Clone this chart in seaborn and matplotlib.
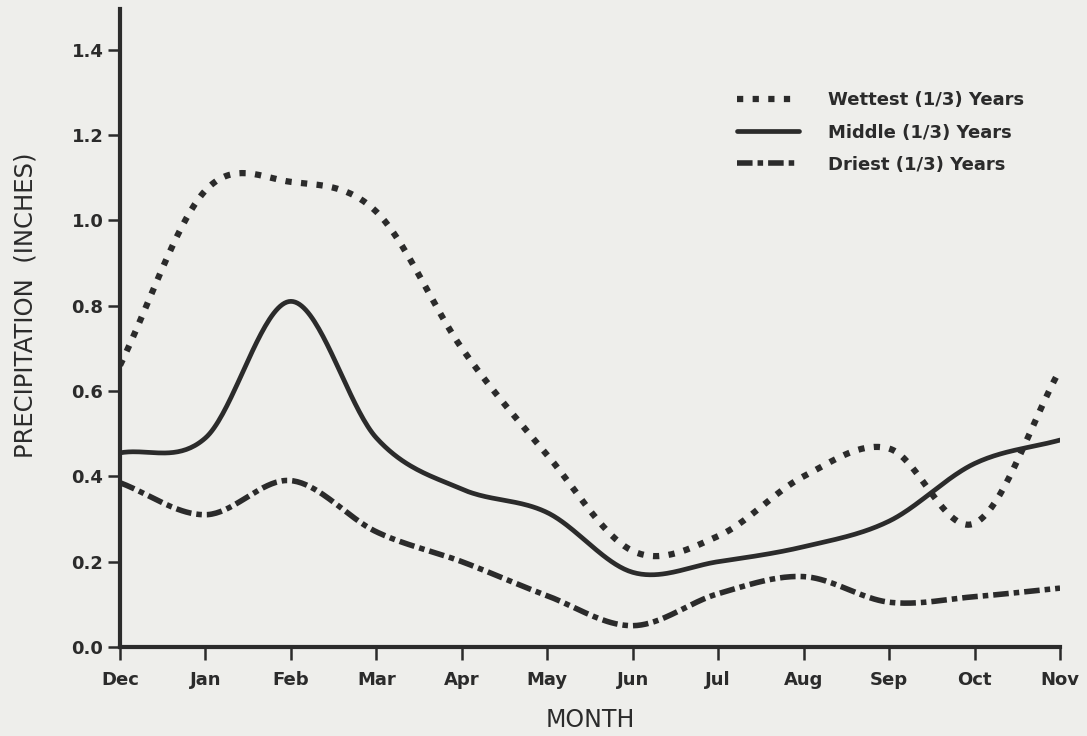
import numpy as np
import pandas as pd
import matplotlib
matplotlib.use("Agg")
import matplotlib.pyplot as plt
import seaborn as sns

# Monthly mean precipitation (inches) for the three terciles of years
months = ["Dec", "Jan", "Feb", "Mar", "Apr", "May", "Jun",
          "Jul", "Aug", "Sep", "Oct", "Nov"]
wettest = [0.66, 1.07, 1.09, 1.02, 0.70, 0.45, 0.225, 0.26, 0.40, 0.465, 0.29, 0.65]
middle = [0.455, 0.49, 0.81, 0.49, 0.37, 0.315, 0.175, 0.20, 0.235, 0.295, 0.43, 0.485]
driest = [0.385, 0.31, 0.39, 0.27, 0.20, 0.12, 0.05, 0.125, 0.165, 0.105, 0.118, 0.138]

series_names = ["Wettest (1/3) Years", "Middle (1/3) Years", "Driest (1/3) Years"]

INK = "#2b2b2b"
PAPER = "#eeeeeb"


def smooth_curve(y, per_seg=40):
    """Catmull-Rom spline through the monthly values for a hand-drawn look."""
    y = np.asarray(y, dtype=float)
    n = len(y)
    tang = np.empty(n)
    tang[1:-1] = (y[2:] - y[:-2]) / 2.0
    tang[0] = y[1] - y[0]
    tang[-1] = y[-1] - y[-2]
    xs, ys = [], []
    t = np.linspace(0, 1, per_seg, endpoint=False)
    h00 = 2 * t**3 - 3 * t**2 + 1
    h10 = t**3 - 2 * t**2 + t
    h01 = -2 * t**3 + 3 * t**2
    h11 = t**3 - t**2
    for i in range(n - 1):
        xs.append(i + t)
        ys.append(h00 * y[i] + h10 * tang[i] + h01 * y[i + 1] + h11 * tang[i + 1])
    xs.append(np.array([n - 1.0]))
    ys.append(np.array([y[-1]]))
    return np.concatenate(xs), np.concatenate(ys)


frames = []
for name, vals in zip(series_names, [wettest, middle, driest]):
    xs, ys = smooth_curve(vals)
    frames.append(pd.DataFrame({"month": xs, "precip": ys, "group": name}))
df = pd.concat(frames, ignore_index=True)

sns.set_theme(style="ticks")
plt.rcParams["font.family"] = ["DejaVu Sans"]

fig = plt.figure(figsize=(10.87, 7.36), dpi=100, facecolor=PAPER)
ax = fig.add_axes([0.1104, 0.1209, 0.8648, 0.8668])
ax.set_facecolor(PAPER)

styles = {
    "Wettest (1/3) Years": dict(dashes=(1.0, 1.5), lw=4.5),
    "Middle (1/3) Years": dict(dashes=None, lw=3.4),
    "Driest (1/3) Years": dict(dashes=(2.8, 0.9, 1.0, 0.9), lw=4.0),
}

for name in series_names:
    sub = df[df["group"] == name]
    st = styles[name]
    sns.lineplot(data=sub, x="month", y="precip", ax=ax, color=INK,
                 lw=st["lw"], label=name, sort=False)
    ln = ax.get_lines()[-1]
    ln.set_dash_capstyle("butt")
    ln.set_solid_capstyle("round")
    if st["dashes"] is not None:
        ln.set_dashes(st["dashes"])

ax.set_xlim(0, len(months) - 1)
ax.set_ylim(0, 1.495)
ax.set_xticks(range(len(months)))
ax.set_xticklabels(months)
yt = np.arange(0, 1.41, 0.2)
ax.set_yticks(yt)
ax.set_yticklabels([f"{v:.1f}" for v in yt])

for s in ["top", "right"]:
    ax.spines[s].set_visible(False)
for s in ["left", "bottom"]:
    ax.spines[s].set_linewidth(3.0)
    ax.spines[s].set_color(INK)

ax.tick_params(axis="both", direction="out", length=9, width=1.8, color=INK,
               labelcolor=INK, labelsize=13)
ax.tick_params(axis="x", pad=8)
ax.tick_params(axis="y", pad=3)
for lab in ax.get_xticklabels() + ax.get_yticklabels():
    lab.set_fontweight("bold")

ax.set_xlabel("MONTH", fontsize=17, color=INK, labelpad=14)
ax.set_ylabel("PRECIPITATION  (INCHES)", fontsize=17.5, color=INK)
ax.yaxis.set_label_coords(-0.088, 0.535)

leg = ax.legend(loc="upper left", bbox_to_anchor=(0.647, 0.885), frameon=False,
                handlelength=3.4, handletextpad=1.6, labelspacing=0.78,
                borderpad=0, prop={"weight": "bold", "size": 13})
for txt in leg.get_texts():
    txt.set_color(INK)

fig.savefig("out.png", dpi=100, facecolor=PAPER)
